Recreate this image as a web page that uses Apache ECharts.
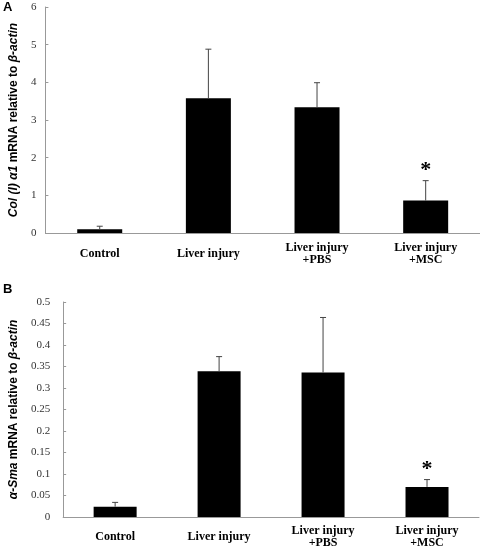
<!DOCTYPE html>
<html><head><meta charset="utf-8">
<script src="https://cdn.jsdelivr.net/npm/echarts@6/dist/echarts.min.js"></script>
<style>html,body{margin:0;padding:0;background:#fff}#c{width:480px;height:549px}</style>
</head><body><div id="c"></div>
<script>
const categories = ['Control', 'Liver injury', 'Liver injury\n+PBS', 'Liver injury\n+MSC'];
const colMeans = [0.10, 3.58, 3.34, 0.86];
const colErrors = [0.08, 1.30, 0.65, 0.53];
const smaMeans = [0.024, 0.339, 0.336, 0.070];
const smaErrors = [0.010, 0.034, 0.128, 0.017];
const significance = ['', '', '', '*'];
const colTicks = {min: 0, max: 6, interval: 1};
const smaTicks = {min: 0, max: 0.5, interval: 0.05};

const serif = 'Liberation Serif, Times New Roman, serif';
const sans = 'Liberation Sans, Arial, sans-serif';

function errSeries(idx, means, errs) {
  return {
    type: 'custom', xAxisIndex: idx, yAxisIndex: idx, z: 5,
    data: means.map((m, i) => [i, m, errs[i], significance[i]]),
    renderItem: function (params, api) {
      const x = api.value(0), v = api.value(1), e = api.value(2);
      const p0 = api.coord([x, v]);
      const p1 = api.coord([x, v + e]);
      const children = [
        {type: 'line', shape: {x1: p0[0], y1: p0[1], x2: p1[0], y2: p1[1]}, style: {stroke: '#444', lineWidth: 1}},
        {type: 'line', shape: {x1: p1[0] - 3, y1: p1[1], x2: p1[0] + 3, y2: p1[1]}, style: {stroke: '#444', lineWidth: 1}}
      ];
      const s = significance[params.dataIndex];
      if (s) {
        children.push({type: 'text', style: {text: s, x: p1[0], y: p1[1] + 1, align: 'center', verticalAlign: 'bottom', font: 'bold 22px ' + serif, fill: '#000'}});
      }
      return {type: 'group', children: children};
    }
  };
}

function xAxis(idx, margin) {
  return {
    type: 'category', gridIndex: idx, data: categories,
    axisLine: {lineStyle: {color: '#999', width: 1}},
    axisTick: {show: false},
    axisLabel: {fontFamily: serif, fontWeight: 'bold', fontSize: 12, color: '#000', lineHeight: 12, margin: margin, verticalAlign: 'middle', interval: 0}
  };
}

function yAxis(idx, t, name, margin, gap) {
  return {
    type: 'value', gridIndex: idx, min: t.min, max: t.max, interval: t.interval,
    splitLine: {show: false},
    axisLine: {show: true, lineStyle: {color: '#999', width: 1}},
    axisTick: {show: true, inside: true, length: 3, lineStyle: {color: '#999'}},
    axisLabel: {fontFamily: serif, fontSize: 11, color: '#333', margin: margin},
    name: name, nameLocation: 'middle', nameGap: gap, nameRotate: 90,
    nameTextStyle: {
      fontFamily: sans, fontSize: 12, fontWeight: 'bold', color: '#000',
      rich: {
        i: {fontFamily: sans, fontSize: 12, fontWeight: 'bold', fontStyle: 'italic', color: '#000'},
        b: {fontFamily: sans, fontSize: 12, fontWeight: 'bold', color: '#000'}
      }
    }
  };
}

const chart = echarts.init(document.getElementById('c'), null, {renderer: 'canvas'});
chart.setOption({
  animation: false,
  grid: [
    {left: 42, top: 7, width: 438, height: 226},
    {left: 59, top: 302, width: 420, height: 217}
  ],
  xAxis: [xAxis(0, 21), xAxis(1, 20)],
  yAxis: [
    yAxis(0, colTicks, '{i|Col (I) α1} {b|mRNA relative to} {i|β-actin}', 9, 20),
    yAxis(1, smaTicks, '{i|α-Sma} {b|mRNA relative to} {i|β-actin}', 13, 37)
  ],
  graphic: [
    {type: 'text', left: 3, top: 1, style: {text: 'A', font: 'bold 13px ' + sans, fill: '#000'}},
    {type: 'text', left: 3, top: 283, style: {text: 'B', font: 'bold 13px ' + sans, fill: '#000'}}
  ],
  series: [
    {type: 'bar', xAxisIndex: 0, yAxisIndex: 0, data: colMeans, barWidth: 45, itemStyle: {color: '#000'}},
    {type: 'bar', xAxisIndex: 1, yAxisIndex: 1, data: smaMeans, barWidth: 43, itemStyle: {color: '#000'}},
    errSeries(0, colMeans, colErrors),
    errSeries(1, smaMeans, smaErrors)
  ]
});
</script></body></html>
